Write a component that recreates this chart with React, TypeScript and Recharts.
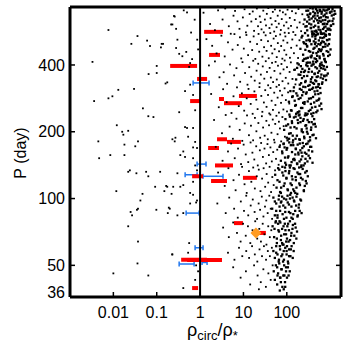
import { ScatterChart, Scatter, XAxis, YAxis, ErrorBar, ReferenceLine } from 'recharts'

const xTicks = [0.01, 0.1, 1, 10, 100]
const yTicks = [36, 50, 100, 200, 400]
const yTicksRight = [50, 100, 200, 400]
const xDomain = [0.001, 1778]
const yDomain = [36, 730]

// scattered points left of the rho = 1 line
const sparseDots: [number, number][] = [
  [0.0033, 413], [0.0077, 575], [0.036, 540], [0.026, 498], [0.06, 515], [0.07, 487], [0.13, 498], [0.125, 480],
  [0.23, 609], [0.26, 661], [0.1, 396], [0.065, 364], [0.1, 368], [0.16, 330], [0.013, 309], [0.03, 312],
  [0.0036, 275], [0.0077, 283], [0.0095, 289], [0.048, 255], [0.064, 235], [0.012, 214], [0.016, 200], [0.022, 202],
  [0.017, 194], [0.0045, 181], [0.018, 175], [0.032, 172], [0.037, 181], [0.0047, 152], [0.0085, 157], [0.018, 157],
  [0.23, 185], [0.26, 181], [0.024, 134], [0.022, 132], [0.034, 130], [0.057, 132], [0.12, 132], [0.0117, 108],
  [0.037, 90], [0.047, 105], [0.042, 98], [0.025, 87], [0.027, 84], [0.035, 89], [0.098, 89], [0.15, 108],
  [0.165, 114], [0.22, 105], [0.18, 86], [0.2, 90], [0.022, 75], [0.037, 64], [0.23, 56], [0.036, 51],
  [0.01, 46], [0.064, 45], [0.215, 609], [0.28, 582], [0.14, 498], [0.28, 477], [0.33, 449], [0.48, 458],
  [0.39, 438], [0.655, 425], [0.59, 408], [0.56, 392], [0.175, 334], [0.59, 326], [0.45, 305], [0.69, 293],
  [0.33, 245], [0.084, 233], [0.77, 250], [0.45, 210], [0.5, 208], [0.69, 208], [0.53, 190], [0.27, 188],
  [0.77, 180], [0.69, 170], [0.85, 169], [0.41, 163], [0.35, 157], [0.45, 154], [0.69, 152], [0.77, 141],
  [0.85, 134], [0.3, 130], [0.064, 126], [0.41, 115], [0.69, 119], [0.175, 113], [0.24, 113], [0.35, 113],
  [0.59, 106], [0.69, 104], [0.092, 113], [0.59, 95], [0.85, 98], [0.19, 91], [0.3, 84], [0.41, 86],
  [0.81, 96], [0.56, 63], [0.53, 57], [0.227, 56], [0.81, 50], [0.77, 43], [0.9, 47], [0.41, 39.5],
  [0.5, 690], [0.75, 640], [0.62, 560], [0.86, 520], [0.9, 470], [0.25, 665], [0.42, 705], [0.3, 520],
]

// medium density points between the line and the ridge
const outerDots: [number, number][] = [
  [1.2, 688], [1.7, 612], [2.6, 705], [2.2, 574], [3.3, 641], [4.6, 598], [3.8, 719], [5.9, 667], [5.1, 553], [7.3, 629],
  [6.4, 701], [8.1, 582], [9.7, 655], [10.6, 713], [12.3, 601], [11.4, 561], [13.9, 679], [15.2, 628], [17.6, 570], [16.4, 697],
  [19.3, 644], [21.7, 598], [20.4, 719], [23.8, 662], [26.1, 579], [24.9, 624], [28.7, 703], [31.2, 641], [29.5, 561], [34.6, 680],
  [33.1, 603], [37.4, 722], [39.8, 587], [42.3, 650], [44.9, 609], [47.6, 694], [51.2, 566], [54.8, 631], [53.3, 712], [58.1, 592],
  [61.7, 667], [65.4, 614], [69.2, 703], [72.8, 575], [76.5, 644], [81.3, 691], [85.9, 602], [89.4, 559], [93.7, 676], [98.2, 623],
  [104, 710], [109, 585], [117, 652], [125, 600], [132, 699], [141, 563], [152, 638], [161, 684], [173, 590], [186, 715],
  [198, 622], [214, 568], [228, 677], [242, 611],
  [1.4, 523], [2.4, 451], [1.9, 488], [3.1, 542], [3.7, 437], [4.4, 506], [5.6, 469], [6.2, 551], [7.4, 492], [8.9, 428],
  [8.3, 533], [10.2, 474], [11.7, 546], [12.8, 443], [14.3, 509], [15.9, 467], [17.2, 538], [18.8, 426], [20.6, 497], [22.3, 552],
  [23.1, 459], [25.7, 518], [27.4, 436], [29.9, 481], [32.5, 544], [34.2, 463], [36.8, 512], [38.3, 429], [41.6, 557], [43.5, 488],
  [46.2, 451], [49.7, 526], [52.4, 471], [55.9, 540], [58.6, 434], [62.1, 502], [66.3, 461], [70.4, 549], [74.1, 487], [78.9, 427],
  [83.2, 516], [87.6, 466], [92.8, 538], [97.3, 445], [103, 504], [111, 557], [118, 431], [126, 478], [134, 521], [146, 452],
  [158, 546], [169, 489], [182, 430], [196, 517],
  [1.6, 398], [2.8, 352], [2.2, 415], [3.5, 371], [4.2, 329], [4.9, 402], [6.1, 359], [6.9, 387], [8.4, 336], [9.5, 412],
  [10.9, 368], [12.4, 326], [13.6, 391], [15.1, 354], [16.8, 418], [18.2, 340], [20.1, 377], [21.9, 405], [23.6, 331], [25.2, 362],
  [27.9, 394], [30.3, 347], [32.7, 416], [34.9, 372], [37.1, 324], [40.2, 388], [42.8, 351], [45.7, 409], [48.3, 335], [51.9, 376],
  [55.2, 413], [58.7, 344], [62.6, 397], [66.1, 325], [70.8, 366], [75.3, 404], [79.6, 338], [84.1, 382], [89.3, 419], [94.5, 350],
  [101, 391], [108, 330], [116, 372], [124, 411], [135, 346], [147, 380], [158, 327],
  [1.8, 296], [2.7, 258], [3.4, 311], [4.1, 272], [5.3, 243], [5.9, 289], [7.1, 317], [7.8, 261], [9.2, 298], [10.4, 249],
  [11.9, 283], [13.1, 312], [14.7, 267], [16.3, 241], [17.9, 304], [19.8, 279], [21.2, 253], [23.4, 318], [25.8, 290], [27.3, 246],
  [29.6, 271], [31.8, 308], [34.1, 259], [36.9, 293], [39.4, 242], [42.1, 315], [44.7, 276], [47.9, 251], [51.3, 300], [54.6, 264],
  [57.9, 319], [61.4, 285], [65.8, 244], [69.7, 306], [73.6, 270], [78.2, 292], [83.4, 252], [88.9, 314], [95.1, 278], [101, 247],
  [107, 301], [114, 268],
  [2.1, 226], [3.2, 197], [3.9, 238], [4.8, 211], [5.7, 186], [6.9, 229], [8.2, 204], [9.4, 182], [10.7, 218], [12.1, 237],
  [13.4, 193], [14.9, 213], [16.7, 183], [18.4, 231], [19.9, 201], [22.1, 219], [24.3, 188], [26.6, 235], [28.4, 209], [30.9, 192],
  [33.8, 224], [36.4, 185], [38.9, 214], [41.7, 239], [44.2, 198], [47.4, 227], [50.8, 184], [54.1, 217], [57.6, 236], [61.2, 195],
  [65.7, 222], [69.4, 207], [74.2, 181], [79.1, 233], [84.6, 212], [90.3, 190],
  [2.3, 171], [3.3, 148], [4.4, 163], [5.2, 177], [6.3, 152], [7.5, 168], [8.8, 143], [10.1, 175], [11.3, 158], [12.9, 146],
  [14.6, 179], [16.1, 161], [17.8, 150], [19.7, 172], [21.4, 141], [23.9, 165], [25.6, 178], [28.1, 154], [30.6, 168], [33.4, 144],
  [35.8, 176], [38.6, 157], [41.9, 170], [45.1, 147], [48.6, 162], [52.3, 179], [56.4, 151], [60.2, 166], [64.8, 142], [69.9, 174],
  [2.6, 131], [3.7, 114], [4.5, 137], [5.9, 121], [6.6, 109], [7.9, 128], [9.3, 139], [10.6, 116], [11.9, 106], [13.4, 133],
  [15.2, 119], [16.8, 138], [18.3, 111], [20.3, 126], [22.6, 135], [24.7, 108], [26.9, 123], [29.2, 137], [31.7, 113], [34.3, 129],
  [37.2, 118], [40.1, 139], [43.4, 107], [46.3, 125], [49.8, 115], [53.6, 134],
  [2.5, 95], [3.9, 86], [4.7, 101], [6.1, 90], [7.4, 82], [8.7, 97], [10.3, 88], [11.6, 103], [12.9, 84], [14.7, 93],
  [16.4, 99], [18.1, 87], [20.6, 81], [22.4, 95], [24.2, 89], [26.5, 102], [28.9, 83], [31.4, 92], [33.6, 98], [36.2, 86],
  [39.5, 103], [42.6, 90], [45.8, 81],
  [3.4, 74], [4.6, 67], [5.8, 78], [7.1, 70], [8.6, 64], [9.8, 77], [11.3, 68], [12.7, 75], [14.4, 63], [16.2, 72],
  [18.7, 79], [20.8, 66], [23.2, 73], [25.3, 64], [27.8, 77], [30.5, 69], [33.9, 62], [37.3, 75], [40.6, 67], [43.9, 72],
  [4.4, 57], [6.2, 53], [7.9, 60], [9.4, 55], [11.6, 58], [13.5, 54], [15.8, 61], [18.3, 56], [20.9, 52], [23.5, 59],
  [26.8, 55], [29.7, 61], [33.2, 53], [36.5, 58], [40.7, 55], [45.2, 60],
  [5.8, 49], [8.6, 44], [11.4, 47], [14.3, 41], [17.6, 50], [21.2, 45], [25.1, 42], [28.8, 48], [32.9, 40], [37.6, 46],
  [42.5, 43], [47.1, 50], [22.7, 39],
]

// the dense ridge on the right
const ridgeDots: [number, number][] = [
  [257, 641], [283, 702], [296, 573], [318, 659], [329, 614], [347, 722], [361, 586], [374, 648], [392, 557], [408, 695],
  [421, 629], [437, 668], [452, 601], [469, 715], [486, 563], [503, 636], [517, 688], [538, 594], [559, 652], [573, 709],
  [596, 575], [618, 627], [634, 681], [657, 552], [679, 611], [702, 664], [726, 590], [749, 703], [771, 638], [798, 568],
  [823, 684], [851, 612], [878, 655], [907, 577], [934, 716], [968, 632], [1002, 690], [1040, 601], [1088, 668], [1133, 715],
  [1190, 647], [1260, 700], [1310, 680], [268, 596], [341, 678], [433, 567], [581, 699], [745, 614], [962, 583],
  [206, 473], [219, 532], [238, 445], [251, 501], [264, 557], [279, 428], [293, 488], [308, 543], [323, 462], [338, 519],
  [354, 436], [369, 496], [387, 551], [403, 454], [419, 511], [436, 478], [453, 538], [471, 425], [489, 486], [508, 549],
  [527, 459], [548, 516], [569, 437], [592, 494], [614, 553], [637, 470], [661, 529], [686, 448], [712, 507], [739, 424],
  [768, 484], [797, 541], [829, 462], [863, 518], [899, 439], [937, 497], [976, 548], [1020, 470], [284, 516], [376, 441],
  [462, 505], [583, 466], [718, 555],
  [153, 381], [164, 344], [176, 407], [187, 362], [199, 326], [211, 395], [224, 349], [238, 418], [251, 372], [266, 335],
  [281, 399], [296, 357], [312, 322], [327, 384], [344, 410], [361, 345], [379, 373], [397, 332], [416, 403], [436, 364],
  [457, 391], [478, 338], [501, 417], [525, 369], [549, 327], [576, 396], [603, 351], [632, 410], [662, 334], [694, 385],
  [727, 358], [763, 416], [801, 342], [841, 392], [882, 366], [215, 372], [306, 410], [489, 353], [655, 399],
  [112, 273], [121, 305], [129, 249], [137, 289], [146, 317], [156, 262], [166, 298], [177, 244], [188, 281], [200, 312],
  [213, 256], [226, 292], [240, 319], [255, 267], [270, 242], [287, 301], [304, 274], [322, 248], [341, 309], [361, 283],
  [382, 257], [404, 316], [428, 271], [453, 295], [479, 245], [507, 306], [536, 278], [567, 262], [600, 299], [632, 253],
  [164, 241], [238, 270], [367, 241], [521, 319],
  [87, 204], [93, 228], [100, 188], [107, 216], [115, 239], [123, 197], [131, 223], [140, 183], [150, 210], [160, 234],
  [171, 192], [182, 219], [194, 185], [207, 231], [221, 201], [236, 224], [251, 190], [268, 213], [285, 238], [303, 196],
  [323, 221], [344, 183], [366, 209], [390, 235], [415, 194], [443, 217], [471, 187], [113, 186], [197, 239], [287, 207],
  [68, 171], [73, 148], [79, 160], [85, 177], [92, 145], [99, 166], [106, 153], [114, 179], [123, 141], [132, 162],
  [141, 174], [151, 149], [162, 167], [174, 143], [186, 158], [199, 177], [213, 150], [228, 169], [244, 141], [261, 161],
  [279, 176], [299, 147], [320, 165], [342, 152], [366, 171], [392, 145], [140, 150], [219, 161],
  [54, 128], [58, 112], [63, 137], [68, 119], [73, 106], [79, 131], [85, 114], [91, 138], [98, 124], [106, 109],
  [114, 133], [122, 117], [131, 126], [141, 110], [151, 136], [162, 121], [174, 105], [187, 129], [201, 115], [215, 139],
  [231, 122], [248, 108], [266, 131], [286, 117], [305, 126], [157, 106], [193, 138],
  [46, 90], [49, 101], [53, 84], [57, 95], [61, 82], [66, 103], [70, 88], [75, 97], [80, 85], [86, 100],
  [92, 91], [98, 82], [105, 96], [112, 87], [120, 104], [128, 92], [137, 81], [146, 98], [156, 88], [167, 102],
  [179, 84], [191, 94], [205, 99], [219, 86],
  [47, 75], [51, 67], [55, 78], [59, 63], [64, 72], [68, 79], [73, 65], [78, 73], [84, 62], [90, 77],
  [96, 69], [103, 75], [110, 64], [118, 79], [126, 68], [135, 73], [145, 63], [155, 77], [166, 66], [172, 71],
  [49, 58], [53, 54], [57, 61], [61, 56], [65, 52], [70, 59], [75, 55], [80, 62], [86, 53], [92, 60],
  [99, 56], [106, 52], [113, 59], [121, 55], [129, 61], [137, 54], [144, 58],
  [50, 47], [53, 43], [56, 50], [60, 41], [63, 46], [67, 51], [71, 44], [75, 48], [79, 40], [83, 45],
  [87, 50], [91, 42], [96, 47], [101, 44], [106, 49], [110, 45], [69, 38.5], [85, 39],
]

// extra points in the darkest core of the ridge
const coreDots: [number, number][] = [
  [312, 703], [455, 648], [687, 581], [903, 712], [378, 566], [1210, 674], [533, 619], [806, 657], [294, 627], [641, 695],
  [472, 571], [1045, 602], [349, 683], [758, 548], [587, 706], [417, 593], [985, 689], [333, 641], [719, 612], [512, 667],
  [868, 583], [396, 718], [1130, 631], [606, 562], [287, 598], [955, 551], [445, 684], [673, 636], [832, 705], [366, 609],
  [540, 578], [1080, 697], [749, 674], [428, 552], [613, 655], [301, 673], [894, 627], [497, 703], [1180, 612], [358, 588],
  [781, 596], [566, 633], [1015, 575], [405, 661], [700, 710],
  [243, 507], [612, 462], [389, 538], [871, 489], [305, 431], [524, 553], [706, 441], [447, 497], [958, 522], [268, 468],
  [575, 429], [339, 512], [803, 547], [483, 452], [661, 511], [228, 541], [412, 473], [741, 426], [295, 484], [535, 497],
  [904, 458], [366, 433], [628, 556], [456, 524], [777, 498], [253, 426], [590, 531], [348, 459], [845, 518], [501, 440],
  [683, 482], [402, 549], [319, 519], [553, 471], [725, 533], [437, 428], [617, 503], [276, 497], [980, 445], [468, 545],
  [173, 388], [452, 341], [288, 409], [627, 362], [214, 331], [371, 397], [539, 328], [766, 381], [249, 356], [406, 414],
  [681, 347], [317, 372], [189, 402], [498, 386], [592, 404], [336, 325], [823, 359], [229, 384], [441, 366], [713, 395],
  [272, 339], [563, 376], [384, 352], [648, 329], [205, 361], [473, 412], [301, 395], [795, 412], [357, 336], [519, 355],
  [236, 418], [610, 387], [424, 329], [741, 356], [263, 377], [393, 402],
  [133, 287], [351, 251], [219, 309], [487, 276], [162, 264], [278, 297], [412, 243], [588, 315], [194, 247], [325, 282],
  [143, 305], [456, 259], [257, 272], [534, 296], [176, 291], [383, 312], [228, 256], [619, 268], [301, 241], [152, 276],
  [438, 304], [268, 318], [510, 249], [207, 284], [359, 267], [125, 250], [560, 282], [241, 302], [403, 287], [182, 245],
  [474, 317], [330, 309],
  [97, 213], [254, 187], [146, 232], [361, 204], [113, 196], [207, 221], [318, 181], [427, 228], [168, 207], [104, 183],
  [279, 214], [189, 237], [392, 193], [132, 219], [236, 199], [463, 211], [159, 186], [301, 226], [118, 234], [343, 189],
  [221, 205], [178, 226], [262, 237], [410, 216], [137, 192], [292, 200], [200, 184], [374, 221], [122, 209], [245, 228],
  [78, 163], [197, 147], [124, 174], [283, 159], [96, 142], [161, 168], [346, 171], [109, 155], [233, 178], [84, 176],
  [148, 151], [261, 144], [184, 161], [318, 156], [102, 169], [217, 141], [137, 179], [385, 163], [91, 153], [172, 144],
  [247, 172], [129, 146], [300, 177], [205, 165], [115, 141], [157, 158], [270, 151], [89, 170], [228, 155], [178, 175],
  [61, 121], [148, 108], [93, 133], [212, 124], [74, 112], [118, 138], [260, 114], [83, 127], [176, 131], [104, 110],
  [135, 122], [288, 133], [67, 135], [194, 117], [125, 106], [232, 136], [89, 117], [160, 125], [112, 130], [247, 109],
  [70, 107], [143, 137], [203, 129], [98, 123], [275, 120], [79, 139], [167, 112], [130, 115],
  [53, 97], [121, 86], [78, 102], [164, 93], [61, 84], [97, 99], [198, 88], [68, 92], [136, 101], [86, 81],
  [112, 94], [176, 83], [57, 88], [149, 97], [92, 87], [73, 96], [128, 82], [213, 98], [104, 103], [65, 99],
  [188, 91], [83, 93], [141, 85], [118, 100],
  [52, 73], [97, 64], [71, 78], [128, 70], [59, 66], [84, 75], [149, 68], [66, 71], [107, 77], [78, 63],
  [119, 65], [56, 79], [93, 72], [138, 76], [74, 68], [101, 66], [63, 77], [160, 74], [87, 69], [112, 72],
  [57, 57], [96, 49], [69, 61], [113, 55], [61, 45], [82, 52], [124, 59], [73, 42], [99, 58], [66, 53],
  [88, 45], [108, 51], [79, 56], [92, 40], [60, 49], [117, 47], [76, 48], [101, 61], [85, 58], [70, 44],
]

// red horizontal bars: [low, high, period]
const redBars: [number, number, number][] = [
  [1.24, 3.38, 564], [1.61, 2.88, 444], [0.204, 0.853, 396], [0.853, 1.45, 346], [0.589, 1.05, 275],
  [2.73, 3.56, 281], [3.56, 9.24, 269], [7.88, 20.4, 290], [2.46, 4.18, 185], [4.18, 8.76, 180],
  [1.53, 2.73, 169], [2.21, 5.74, 141], [0.655, 1.17, 126], [1.79, 4.18, 120], [9.74, 20.4, 124],
  [6.05, 9.74, 77.5], [16.5, 32.9, 70], [0.366, 1.45, 53], [0.502, 3.2, 52.8], [0.655, 0.9, 39.5],
]

// blue horizontal bars with caps: [low, high, period]
const blueBars: [number, number, number][] = [
  [0.69, 1.61, 332], [0.853, 1.37, 143], [0.452, 0.853, 128], [1.17, 3.38, 126],
  [0.477, 0.95, 86], [0.767, 1.17, 60], [0.329, 0.728, 50.7], [1.11, 1.45, 51.5],
]

const orangePoint = [{ x: 19.4, y: 70 }]

const toPoints = (arr: [number, number][]) => arr.map(([x, y]) => ({ x, y }))
const toBars = (arr: [number, number, number][]) =>
  arr.map(([lo, hi, y]) => {
    const x = Math.sqrt(lo * hi)
    return { x, y, err: [x - lo, hi - x] }
  })

const lightData = toPoints([...sparseDots, ...outerDots])
const denseData = toPoints([...ridgeDots, ...coreDots])
const redData = toBars(redBars)
const blueData = toBars(blueBars)

const Dot = (p: any) => <rect x={p.cx - 0.9} y={p.cy - 0.9} width={1.8} height={1.8} fill="#000" />
const BigDot = (p: any) => <rect x={p.cx - 1.15} y={p.cy - 1.15} width={2.3} height={2.3} fill="#000" />
const Empty = () => <g />
const NoTick = () => <g />
const Diamond = (p: any) => (
  <polygon
    points={`${p.cx},${p.cy - 5.5} ${p.cx + 5.5},${p.cy} ${p.cx},${p.cy + 5.5} ${p.cx - 5.5},${p.cy}`}
    fill="#ff9b21"
  />
)

const YTick = (p: any) => {
  const shift = p.payload.value === 36 ? -5 : 0
  return (
    <text x={p.x} y={p.y + shift} dy="0.355em" textAnchor="end" fontSize={16} fill="#000">
      {p.payload.value}
    </text>
  )
}

const XTick = (p: any) => (
  <text x={p.x} y={p.y} dy="0.71em" textAnchor="middle" fontSize={16} fill="#000">
    {String(p.payload.value)}
  </text>
)

const edge = { stroke: '#000', strokeWidth: 3, ifOverflow: 'visible' as const, xAxisId: 'b', yAxisId: 'l' }
const tickLine = { stroke: '#000', strokeWidth: 1.5 }
const font = '"Liberation Sans", Arial, sans-serif'

export default function App() {
  return (
    <div style={{ position: 'absolute', left: 0, top: 0, width: 350, height: 350, background: '#fff', fontFamily: font }}>
      <ScatterChart width={350} height={350} margin={{ top: 6, right: 8, bottom: 23, left: 8 }}>
        <XAxis
          xAxisId="b" type="number" dataKey="x" scale="log" domain={xDomain}
          ticks={xTicks} interval={0} tickSize={-5} tickMargin={15} height={30}
          axisLine={false} tickLine={tickLine} tick={<XTick />}
        />
        <XAxis
          xAxisId="t" orientation="top" type="number" dataKey="x" scale="log" domain={xDomain}
          ticks={xTicks} interval={0} tickSize={-5} height={1} axisLine={false} tickLine={tickLine} tick={<NoTick />}
        />
        <YAxis
          yAxisId="l" type="number" dataKey="y" scale="log" domain={yDomain} allowDataOverflow
          ticks={yTicks} interval={0} tickSize={-5} tickMargin={10} width={62}
          axisLine={false} tickLine={tickLine} tick={<YTick />}
        />
        <YAxis
          yAxisId="r" orientation="right" type="number" dataKey="y" scale="log" domain={yDomain} allowDataOverflow
          ticks={yTicksRight} interval={0} tickSize={-5} width={1} axisLine={false} tickLine={tickLine} tick={<NoTick />}
        />
        <Scatter xAxisId="b" yAxisId="l" data={lightData} shape={Dot} isAnimationActive={false} />
        <Scatter xAxisId="b" yAxisId="l" data={denseData} shape={BigDot} isAnimationActive={false} />
        <Scatter xAxisId="b" yAxisId="l" data={blueData} shape={Empty} isAnimationActive={false}>
          <ErrorBar dataKey="err" direction="x" stroke="#2277ee" strokeWidth={1.5} width={2.5} />
        </Scatter>
        <Scatter xAxisId="b" yAxisId="l" data={redData} shape={Empty} isAnimationActive={false}>
          <ErrorBar dataKey="err" direction="x" stroke="#ff0000" strokeWidth={4} width={0} />
        </Scatter>
        <Scatter xAxisId="b" yAxisId="l" data={orangePoint} shape={Diamond} isAnimationActive={false} />
        <ReferenceLine xAxisId="b" yAxisId="l" x={1} stroke="#000" strokeWidth={2} />
        <ReferenceLine {...edge} x={xDomain[0]} />
        <ReferenceLine {...edge} x={xDomain[1]} />
        <ReferenceLine {...edge} y={yDomain[0]} />
        <ReferenceLine {...edge} y={yDomain[1]} />
      </ScatterChart>
      <svg width={350} height={350} style={{ position: 'absolute', left: 0, top: 0, pointerEvents: 'none' }}>
        <text x={20} y={153} transform="rotate(-90 20 153)" textAnchor="middle" dominantBaseline="central" fontSize={16} fill="#000">
          P (day)
        </text>
        <text x={187} y={336} fontSize={18} fill="#000">
          <tspan>ρ</tspan>
          <tspan dy={4} fontSize={13}>circ</tspan>
          <tspan dy={-4}>/ρ</tspan>
          <tspan dy={4} fontSize={13}>*</tspan>
        </text>
      </svg>
    </div>
  )
}
